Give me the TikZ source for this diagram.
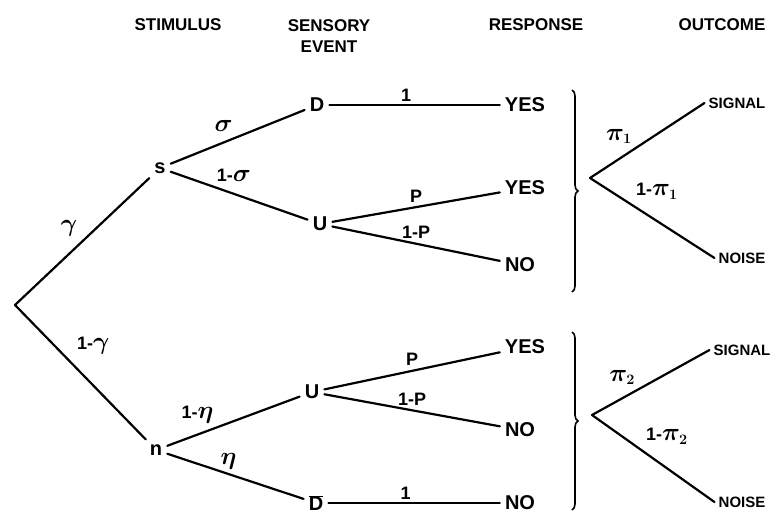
\documentclass[tikz,border=0pt]{standalone}
\usepackage{fontspec}
\setmainfont{Liberation Sans}
\usetikzlibrary{decorations.pathreplacing}

\newcommand{\gk}[1]{{\fontsize{25}{27}\selectfont$#1$}}
\newcommand{\gkpi}[1]{{\fontsize{27}{29}\selectfont$\pi_{\scriptscriptstyle #1}$}}

\begin{document}
\begin{tikzpicture}[x=1pt,y=-1pt]

        \useasboundingbox (0,0) rectangle (775,515);

        % column heads
        \begin{scope}[every node/.style={font=\bfseries\fontsize{17}{21}\selectfont, align=center}]
          \node (stimulus) at (178,25) {STIMULUS};
          \node (sensory)  at (329,36) {SENSORY\\EVENT};
          \node (response) at (536,25) {RESPONSE};
          \node (outcome)  at (722,25) {OUTCOME};
        \end{scope}

        \begin{scope}[every node/.style={font=\bfseries\fontsize{20}{22}\selectfont, inner sep=5pt}]
          \coordinate (root) at (15,305);
          \node (s)    at (160,168) {s};
          \node (n)    at (156,450) {n};
          \node (D)    at (317,105) {D};
          \node (U1)   at (320,224) {U};
          \node (U2)   at (312,392) {U};
          \node (Dbar) at (316,503) {$\overline{\mbox{D}}$};
          \node (yes1) at (525,105) {YES};
          \node (yes2) at (525,188) {YES};
          \node (no1)  at (520,265) {NO};
          \node (yes3) at (525,347) {YES};
          \node (no2)  at (520,430) {NO};
          \node (no3)  at (520,503) {NO};
        \end{scope}

        \begin{scope}[every node/.style={font=\bfseries\fontsize{15}{17}\selectfont, inner sep=4pt}]
          \coordinate (o1) at (590,178);
          \coordinate (o2) at (592,415);
          \node (signal1) at (737,103) {SIGNAL};
          \node (noise1)  at (742,258) {NOISE};
          \node (signal2) at (742,350) {SIGNAL};
          \node (noise2)  at (742,502) {NOISE};
        \end{scope}

        % braces
        \coordinate (b1top) at (572,90);
        \coordinate (b1bot) at (572,292);
        \coordinate (b2top) at (572,332);
        \coordinate (b2bot) at (572,510);
        \draw[line width=1.6pt, decorate, decoration={brace, amplitude=6pt}] (b1top) -- (b1bot);
        \draw[line width=1.6pt, decorate, decoration={brace, amplitude=6pt}] (b2top) -- (b2bot);

        \begin{scope}[every node/.style={font=\bfseries\boldmath\fontsize{18}{20}\selectfont, inner sep=1pt},
                      every edge/.style={draw, line width=2.2pt, line cap=round}]
          \path (root) edge node[pos=.5, above left=3pt] {\gk{\gamma}} (s);
          \path (root) edge node[pos=.42, above right=5pt] {1-\gk{\gamma}} (n);

          \path (s)  edge node[pos=.5, above left=3pt] {\gk{\sigma}} (D);
          \path (s)  edge node[pos=.3, above right=3pt] {1-\gk{\sigma}} (U1);
          \path (n)  edge node[pos=.38, above left=2pt] {1-\gk{\eta}} (U2);
          \path (n)  edge node[pos=.45, above=3pt] {\gk{\eta}} (Dbar);

          \path (D)    edge node[pos=.45, above=1pt] {1} (yes1);
          \path (U1)   edge node[pos=.5, above=3pt] {P} (yes2);
          \path (U1)   edge node[pos=.5, above=3pt] {1-P} (no1);
          \path (U2)   edge node[pos=.5, above=3pt] {P} (yes3);
          \path (U2)   edge node[pos=.5, above=3pt] {1-P} (no2);
          \path (Dbar) edge node[pos=.45, above=1pt] {1} (no3);

          \path (o1) edge node[pos=.4, above left=2pt] {\gkpi{1}} (signal1.west);
          \path (o1) edge node[pos=.33, above right=3pt] {1-\gkpi{1}} (noise1.west);
          \path (o2) edge node[pos=.4, above left=2pt] {\gkpi{2}} (signal2.west);
          \path (o2) edge node[pos=.4, above right=3pt] {1-\gkpi{2}} (noise2.west);
        \end{scope}

      \end{tikzpicture}
\end{document}
